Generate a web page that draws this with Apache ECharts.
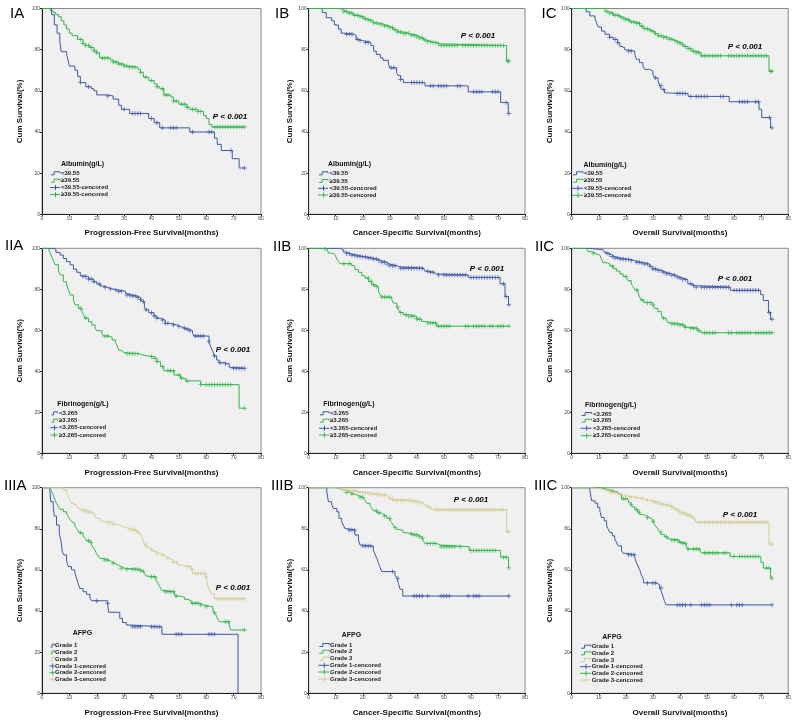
<!DOCTYPE html>
<html><head><meta charset="utf-8">
<script src="https://cdn.jsdelivr.net/npm/echarts@6/dist/echarts.min.js"></script>
<style>html,body{margin:0;padding:0;background:#fff}#c{width:794px;height:723px}</style>
</head><body><div id="c"></div>
<script>
// ===== DATA: Kaplan-Meier step points [month, survival %] and censored times =====
const xTicks = [0,10,20,30,40,50,60,70,80];
const yTicks = [0,20,40,60,80,100];
const pText = 'P < 0.001';

// Row I: Albumin(g/L)
const IA_low = [[0,100],[3.5,97],[4.5,92],[5.5,88],[6.5,84],[7,79],[9,78],[9.5,75],[10,72],[12,70],[13,67],[14,64],[16,62],[18,61],[19,60],[20,58],[24,57.5],[26,56],[28,53],[29,51],[32,49],[39,46.5],[41,44.5],[43,42],[54,40],[63,37],[64,34],[65.5,31],[69.5,27],[72,22.5],[74,22.5]];
const IA_low_cens = [14,17,24,30,33,34,35,36,40,42,44,47,48,49,55,61,62,69,74];
const IA_high = [[0,100],[3,99],[4,98],[5,97],[6,96],[7,94],[8,92],[9,90],[10,88],[11,86.8],[13,85],[15,83],[16,82],[17.5,81],[19,79.5],[20,78.5],[21,76],[25,75],[26,74],[28,73],[30,72],[32,71.5],[35,70.5],[36,69],[37,66.6],[39,65],[41,63.4],[42,62],[43,61],[44.5,58],[47,57],[48,55],[50,53.5],[53,52],[54,51],[57,50],[59,48],[60,46.5],[61,43.7],[62,42.4],[74,42.4]];
const IA_high_cens = [14,15,16,17,18,19,20,22,23,24,26,27,28,29,30,31,32,33,34,36,38,40,42,44,45,46,48,49,51,52,53,55,56,57,58,63,64,65,66,67,68,69,70,71,72,73,74];

const IB_low = [[0,100],[5,98],[6.5,95.5],[8.5,94],[9.5,92],[11,90],[12,88],[13,87.5],[16.5,87],[17.5,85],[18.5,84.4],[20,83.5],[23,82],[24,79.3],[25,77.7],[26.5,76],[27.5,74.8],[29.5,72.8],[30,71.2],[32.5,69],[33,67.5],[34,65.5],[35,64],[43,62.4],[59,59.5],[71,54.3],[73.8,49],[74,49]];
const IB_low_cens = [14,15,16,18,19,21,22,30.5,31.5,34,38,39,40,41,42,45,46,48,49,50,51,55,56,61,62,63,64,68,69,70,73,74];
const IB_high = [[0,100],[11.5,99.3],[12.8,98.4],[14.7,97.7],[16.5,96.7],[18.4,96],[20.2,95],[21.5,94.5],[22.7,94],[24,93],[25.8,92.4],[27.6,91.5],[29.5,90.7],[31.3,89.6],[33,88.6],[35,87.8],[37.5,87],[40,86.3],[41,85.7],[42.4,84.7],[43.6,83.9],[45.5,83.4],[47.3,82.8],[48.6,82],[73.2,74.5],[74,74.5]];
const IB_high_cens = [13,14,15,16,17,18,19,20,21,22,23,24,25,26,27,28,29,30,31,32,33,34,35,36,37,38,39,40,41,42,43,44,45,46,47,48,49,50,51,52,53,54,55,57,58,59,60,61,62,63,64,65,66,67,68,69,70,71,72,73.6,74];

const IC_low = [[0,100],[5.3,98.4],[6.7,96.4],[8.6,95],[9.2,93],[9.8,91],[11,89],[12.3,87.5],[14,86],[15.3,85],[17,83.4],[17.8,81.8],[18.4,81],[19.6,80],[20.2,79.3],[23.3,77.7],[23.9,75.3],[25,73.7],[26.3,72],[27,70.4],[28.8,69.6],[30,68],[30.6,66.3],[31.9,64.7],[32.5,62.6],[33.1,60.7],[34.3,59],[35,58.7],[43,57.3],[58.2,54.7],[69.2,51],[70.2,47],[73.5,42],[74,42]];
const IC_low_cens = [14,16,17,21,22,31,33,34,39,40,41,42,44,46,47,48,49,50,55,56,62,63,64,65,68,69,73,74];
const IC_high = [[0,100],[12.3,98.5],[14,97.7],[15.3,96.7],[17.2,96],[18.4,95.3],[19.6,94.5],[21.4,93.5],[23.3,92.8],[25.1,91.5],[26.3,90.2],[28.2,89.4],[29.4,88.8],[30.6,87.8],[31.9,86.7],[33.7,85.9],[35.5,85],[37.4,84.4],[38.6,83.7],[39.8,83.1],[41,82.4],[41.7,81.5],[43,80.5],[44.1,79.3],[46,78.5],[47.8,77],[72.9,69.5],[74,69.5]];
const IC_high_cens = [13,14,15,16,17,18,19,20,21,22,23,24,25,26,27,28,29,30,31,32,33,34,35,36,37,38,39,40,41,42,43,44,45,46,47,48,49,50,51,52,53,54,55,58,59,60,61,62,63,64,65,66,67,68,69,70,71,72,73.6,74];

// Row II: Fibrinogen(g/L)
const IIA_low = [[0,100],[4.2,99.5],[5.1,98],[6.6,96.7],[7.8,95],[9,93.5],[10.3,91.9],[11.5,89.8],[12.7,88.3],[14,86.7],[14.6,86.2],[17,85],[18.8,83.7],[20,82.6],[21.3,81.6],[22.5,81],[23.7,80.2],[25.6,79.7],[27.4,79],[30.5,78],[31,77.2],[33,76.7],[34.7,76],[36,75],[36.6,74],[37.4,71.2],[38,70],[39,68.6],[40.9,67],[42,65.9],[43.3,65],[45,63.4],[47,62.6],[49.4,61.8],[50.6,61],[52.5,60.5],[53.7,59.8],[55,58.5],[55.5,57.2],[61,54.5],[61.6,52],[62.3,50],[62.9,47.5],[63.8,45.5],[64.7,44.2],[66.5,43.6],[68.4,42],[69,41.5],[74,41.5]];
const IIA_low_cens = [15,16,17,18,19,21,23,25,27,28,29,31,32,33,34,35,36,37,38,40,41,42,44,45,46,48,50,52,53,54,56,57,58,59,61,63,65,67,70,71,72,73,74];
const IIA_high = [[0,100],[2.3,99.5],[2.9,98],[3.5,96],[4.2,94],[4.8,92],[6,89.4],[6.6,87],[7.8,83.7],[9,82],[9.7,79.7],[10.3,77.2],[11.5,74.5],[12.1,72.4],[13.3,70.7],[14.6,69],[15.2,67.5],[15.8,65.9],[17,64.2],[18.2,62.6],[19.4,61],[20,59.8],[21.9,58.2],[22.5,57.2],[24.3,56.6],[25.6,55.3],[26.8,54.1],[27.4,52.8],[28,50.4],[28.6,50],[29.2,49.1],[30,48.6],[35.4,48],[36.6,47.5],[38.4,47.2],[40.9,46.3],[42,44.7],[43.3,42.3],[44.5,40.3],[48.2,38.2],[50.6,36.6],[52.5,35.3],[58,33.5],[72,22],[74,22]];
const IIA_high_cens = [14,16,23,24,31,32,33,34,35,40,41,42,44,46,47,48,50,51,53,58,60,61,62,63,64,65,66,67,68,69,74];

const IIB_low = [[0,100],[11.6,99.3],[12.8,98.2],[14,97.4],[15.3,96.6],[17.8,96.1],[19.6,95.8],[21.5,95.3],[23.3,94.8],[25.2,94],[27,93.2],[28.9,92.3],[30,91.5],[32.6,90.9],[33.8,90.3],[42.4,89.6],[43,88.8],[44.3,88.3],[46.1,87.5],[47.3,87],[59,85.8],[70.8,82.7],[72.6,76.5],[73.9,72.5],[74,72.5]];
const IIB_low_cens = [14,15,16,17,18,19,20,21,22,23,24,25,26,27,28,29,30,31,32,34,35,36,37,38,39,40,41,42,44,45,46,48,50,51,52,53,54,55,56,57,58,60,61,62,63,64,65,66,67,68,69,70,72,73,74];
const IIB_high = [[0,100],[5.2,99.7],[6.7,99],[7.3,97.7],[8.5,96.9],[9.7,96.1],[10.4,94.8],[11,93.6],[11.6,92.5],[15.9,91.5],[17.1,89.6],[18.4,88.3],[19.6,86.6],[20.8,85.5],[22.1,83.9],[23.3,82.2],[24.5,81.4],[25.8,79],[26.4,77.4],[27,76.2],[30.7,75.2],[31.3,73.3],[32.6,71.3],[33.1,70],[33.8,68.7],[35,67.6],[36.9,66.8],[40,65.5],[41.8,64.3],[43,63.5],[47.3,62],[74,62]];
const IIB_high_cens = [6,13,15,22,23,24,25,27,28,29,30,33,34,36,37,38,39,40,41,44,45,46,47,48,49,50,51,52,58,59,61,62,63,64,65,67,68,70,71,72,74];

const IIC_low = [[0,100],[6.5,99.7],[8.6,99.3],[11.6,98.5],[12.3,97.7],[13.5,96.9],[14.7,96],[15.9,95.3],[17.8,94.8],[19.6,94.5],[22,94],[23.3,93.2],[25.1,92.8],[27,92.3],[28.8,91.2],[30,89.9],[31.3,89.1],[33.1,88.3],[34.9,87.6],[36.8,86.8],[38.6,86],[39.8,85.5],[41,84.7],[42.9,82.7],[44.1,81.8],[45.3,81],[58.6,79.5],[69.8,77.4],[70.8,74.5],[72.7,68.7],[73.5,65.4],[74,65.4]];
const IIC_low_cens = [13,14,15,16,17,18,19,20,21,22,24,25,26,27,28,29,30,31,32,33,34,35,36,37,38,39,40,41,42,44,45,46,48,49,50,51,52,53,54,55,56,57,58,60,61,62,63,64,65,66,67,68,69,73,74];
const IIC_high = [[0,100],[5.5,99.5],[6.1,98.4],[7.4,97.6],[8.6,96.7],[10.4,95.9],[11,94.6],[11.6,93],[12.9,92.4],[14.1,91.4],[15.3,90.2],[16.5,88.9],[17.8,87.5],[19,86.2],[20.2,85.4],[20.8,84.2],[22,82.6],[22.7,81.3],[23.3,79.7],[24.5,78.4],[25.1,76.1],[25.7,74.8],[26.7,73.5],[30,72.4],[30.6,70.7],[31.9,69.1],[33.1,67.5],[33.7,65.9],[34.9,65],[35.5,63.7],[36.8,63.1],[39.8,62.6],[41.7,61.5],[42.9,61],[46.6,59.8],[47.8,58.8],[74,58.8]];
const IIC_high_cens = [8,15,20,24,26,28,29,30,34,37,38,39,40,41,42,44,45,46,47,49,50,51,52,53,58,59,61,62,63,64,65,66,68,69,70,71,72,73,74];

// Row III: AFPG grades
const IIIA_g1 = [[0,100],[2.9,98],[3.2,93.2],[4.1,90.8],[4.5,86.2],[5.3,81.8],[6.3,77.8],[7,73.7],[7.4,68.9],[8,67.3],[9,64.3],[9.6,61.6],[10.8,60],[12,58.7],[12.6,55.9],[13.2,53.5],[13.8,51],[15,49.4],[16.3,48.1],[17.5,46.5],[18.1,45],[23.9,43.8],[24.4,39.4],[28.4,36.5],[29.4,34.4],[30.8,33.2],[31.8,32.4],[43.8,28.7],[71.6,0]];
const IIIA_g1_cens = [20,24,33,34,35,36,40,41,42,43,49,50,51,61,62,63];
const IIIA_g2 = [[0,100],[2.9,99.2],[3.5,98],[4.1,96.4],[4.7,94.3],[5.3,92.4],[5.9,90.8],[6.6,89.5],[7.8,88.3],[9,87.2],[9.6,85.9],[10.2,84.6],[10.8,83.5],[11.4,82.7],[12,81.4],[12.6,80.2],[13.2,79.1],[13.8,78.1],[15,76.5],[15.7,75.4],[16.3,74.2],[17.5,73.3],[18.1,72.1],[18.7,71],[19.3,69.7],[19.9,68.1],[20.5,66.8],[21.1,65.6],[22.3,64.8],[24.2,64],[25.4,63.2],[26.6,62.4],[27.8,61.6],[29,60.8],[30.2,60.3],[35.7,59.6],[36.9,59.2],[37.5,58],[38.1,57],[38.7,56.7],[41.7,54.8],[42.4,53.5],[43,51.9],[43.6,50.2],[44.2,49.4],[48.4,48.3],[49,47.3],[50.2,46.7],[52.1,45.7],[53.3,45],[54.5,43.8],[57.5,42.9],[59.3,42.1],[62.4,40.5],[63,39.2],[63.6,38.1],[64.2,36],[64.8,34.8],[68.4,32.7],[69,30.8],[74,30.8]];
const IIIA_g2_cens = [14,17,18,23,24,26,29,31,33,34,35,36,37,40,41,45,46,47,48,49,55,56,57,58,60,63,67,68,74];
const IIIA_g3 = [[0,100],[7.8,98.9],[9,97.2],[9.6,95.6],[10.2,94],[10.8,92.4],[11.4,91.6],[12.6,90.4],[13.2,89.5],[14.4,88.7],[16.9,88],[18.1,87.2],[19.3,86.2],[19.9,85.1],[21.1,84.3],[21.7,83.5],[22.9,83],[25.4,82.3],[26.6,81.7],[28.4,81],[29.6,80.6],[30.8,79.9],[32.6,79.4],[34.5,78.6],[35.1,77.5],[36.3,76.5],[36.9,74.6],[37.5,72.1],[38.1,71],[39.3,70],[40.5,68.9],[41.7,68.1],[43,67.3],[44.2,66.5],[45.4,65.6],[46.6,64.8],[47.8,63.7],[49.6,62.4],[50.8,61.6],[54.5,60.3],[55.1,58.3],[59.9,56.7],[60.5,52.7],[61.2,50.2],[61.8,48.3],[63,46],[74,46]];
const IIIA_g3_cens = [15,16,17,18,24,25,26,32,33,34,35,38,40,42,44,46,48,49,53,54,55,56,57,58,59,60,64,65,66,67,68,69,70,71,72,73,74];

const IIIB_g1 = [[0,100],[6.7,98],[7.3,93.2],[8.5,92],[9.1,89.9],[10.4,88.3],[11.2,85.1],[12.2,83.5],[12.8,81.8],[13.4,80.2],[14,79.4],[17.1,77],[18.4,74.6],[19,72.1],[20,71.6],[23.9,69.7],[24.5,67.7],[25.2,65.6],[25.8,63.2],[26.4,61.3],[27,59.2],[31.9,57.5],[32.6,55.9],[33.2,53.5],[33.8,50.6],[34.8,47.3],[74,47.3]];
const IIIB_g1_cens = [15,16,17,20,21,22,23,31,33,39,40,41,42,44,49,50,51,52,59,61,62,63,74];
const IIIB_g2 = [[0,100],[9.7,99.7],[11,99.2],[12.2,98.5],[14,97.7],[15.3,96.9],[17.1,96.1],[18.4,95.3],[20.2,94.5],[20.8,93.7],[21.5,92.4],[22.7,91.2],[23.3,90],[23.9,88.8],[25.2,87.8],[26.4,87],[27.6,86.2],[28.9,85.1],[30.1,84],[30.7,83],[31.3,81.8],[31.9,80.7],[32.6,79.7],[33.8,79.1],[35,78.1],[36.3,77.5],[38.7,77],[40.6,76.2],[41.8,75.4],[42.4,74.2],[43,72.9],[47.3,72.1],[48.6,71.3],[59.4,69.5],[71,66.2],[73.9,61],[74,61]];
const IIIB_g2_cens = [14,16,19,20,25,26,28,30,32,38,39,40,41,42,44,45,46,47,49,50,51,52,53,54,56,60,61,62,63,64,65,66,67,68,69,72,73,74];
const IIIB_g3 = [[0,100],[10.4,99.7],[11.6,99.2],[12.8,98.9],[14.7,98.5],[17.1,98],[19,97.6],[21.5,97.2],[23.3,96.9],[25.8,96.4],[28.9,96.1],[29.5,95],[30.1,94.3],[31.3,93.8],[38.7,93.2],[40.6,92.6],[42.4,92.4],[43,91.6],[43.6,90.8],[44.9,90],[45.5,89.3],[73.2,78.6],[74,78.6]];
const IIIB_g3_cens = [13,14,15,16,17,18,19,20,21,22,23,24,25,26,27,28,30,31,32,33,34,35,36,37,38,39,40,41,42,44,45,47,48,49,50,51,52,53,54,55,56,57,58,59,60,61,62,63,64,65,66,67,68,69,70,71,72,73.6,74];

const IIIC_g1 = [[0,100],[6.7,98.5],[7.4,93.6],[8.6,92.5],[9.6,90.4],[10.4,88.8],[11,85.5],[12,83.9],[12.9,81.4],[13.5,79.8],[14.1,78.2],[15,76.6],[15.9,74.9],[16.5,73.6],[17.2,71.7],[18.4,69.3],[19,68.1],[20,67.4],[23.3,66],[23.9,63.5],[24.5,61.9],[25.1,60.2],[25.7,57.7],[26.3,56.1],[26.7,53.7],[31.2,52.8],[32.5,51.2],[33.1,49.6],[33.7,47.2],[34.3,44.7],[34.9,43],[74,43]];
const IIIC_g1_cens = [21,22,23,28,30,31,33,39,40,41,42,44,48,49,50,51,59,61,62,63,74];
const IIIC_g2 = [[0,100],[10.8,99.5],[12.3,98.9],[14.1,98.4],[15.3,97.9],[17.2,96.7],[18.4,94.6],[20.2,94],[21,92.7],[21.8,91.9],[22.3,90.7],[23.3,89.4],[24.3,88.1],[25.1,87],[26.3,86.2],[27.6,85.4],[28.8,84.6],[30,83.7],[30.6,82.1],[31.3,80.9],[31.9,79.7],[32.5,78.4],[33.1,77.2],[34.3,76.1],[35.5,75.1],[36.8,74.5],[39.8,73.5],[41,72.9],[42.3,71.5],[42.9,70.2],[47.2,69.6],[47.8,68.3],[58.6,66.5],[69.9,63.7],[70.8,60.9],[73.5,56],[74,56]];
const IIIC_g2_cens = [15,19,20,22,24,25,28,30,33,35,37,38,39,40,41,42,43,45,46,47,49,50,51,52,53,54,56,57,60,62,63,64,65,66,67,68,69,72,73,74];
const IIIC_g3 = [[0,100],[6.7,99.7],[8.6,99.3],[11,98.5],[12.9,98],[14.7,97.5],[17.2,96.7],[19,95.9],[20.8,95.4],[23.3,95.1],[25.1,94.6],[27,93.9],[28.8,93.4],[30.6,92.7],[32.5,91.9],[34.3,91.4],[36.2,90.7],[37.4,89.8],[38.6,89.1],[39.8,88.1],[41,87.3],[42.9,86.5],[44.1,85.4],[45.3,84.6],[46,83.2],[72.9,72.6],[74,72.6]];
const IIIC_g3_cens = [14,15,16,17,18,20,22,24,26,28,30,31,32,33,34,35,36,37,38,39,40,41,42,43,44,45,47,48,49,50,51,52,53,54,55,56,57,58,59,60,61,62,63,64,65,66,67,68,69,70,71,72,73.6,74];

// Labels
const xTitles = ['Progression-Free Survival(months)','Cancer-Specific Survival(months)','Overall Survival(months)'];
const yTitle = 'Cum Survival(%)';
const legendTitles = ['Albumin(g/L)','Fibrinogen(g/L)','AFPG'];
const legendAlb = ['<39.55','\u226539.55','<39.55-cencored','\u226539.55-cencored'];
const legendFib = ['<3.265','\u22653.265','<3.265-cencored','\u22653.265-cencored'];
const legendAfpg = ['Grade 1','Grade 2','Grade 3','Grade 1-cencored','Grade 2-cencored','Grade 3-cencored'];
const panelLabels = ['IA','IB','IC','IIA','IIB','IIC','IIIA','IIIB','IIIC'];

// ===== STYLE / LAYOUT =====
const BLUE='#3E58AC', GREEN='#2EB848', TAN='#D3CE97';
const FONT = '"Liberation Sans", Arial, sans-serif';
const cross = 'path://M0,4H10V6H0Z M4,0H6V10H4Z';
const cols = [{left:42,width:219},{left:308.7,width:216.3},{left:571.7,width:217.6}];
const rows = [{top:8.5,height:205.8},{top:248.3,height:205},{top:487.7,height:205.6}];
const yGaps = [18,15,18];
const xGaps = [14,15,15];

const panels = [
  {curves:[[IA_low,IA_low_cens,BLUE],[IA_high,IA_high_cens,GREEN]], leg:legendAlb, lt:0, p:[230,117], lab:[10,15],
   L:{ix:51,iw:9,tx:61,titx:61,tity:164,rows:[173.3,180.7,187.5,194.5]}},
  {curves:[[IB_low,IB_low_cens,BLUE],[IB_high,IB_high_cens,GREEN]], leg:legendAlb, lt:0, p:[478,36], lab:[275,15],
   L:{ix:319,iw:9,tx:329.5,titx:328,tity:164.3,rows:[173.3,181,188.3,195]}},
  {curves:[[IC_low,IC_low_cens,BLUE],[IC_high,IC_high_cens,GREEN]], leg:legendAlb, lt:0, p:[745,47], lab:[541.5,15],
   L:{ix:573,iw:10,tx:584,titx:583.5,tity:164.7,rows:[173.3,180.7,188.3,195.3]}},
  {curves:[[IIA_low,IIA_low_cens,BLUE],[IIA_high,IIA_high_cens,GREEN]], leg:legendFib, lt:1, p:[233,350], lab:[5,246.7],
   L:{ix:51.5,iw:6,tx:59,titx:57.3,tity:404,rows:[413.3,420.7,427.7,435]}},
  {curves:[[IIB_low,IIB_low_cens,BLUE],[IIB_high,IIB_high_cens,GREEN]], leg:legendFib, lt:1, p:[487,269], lab:[273,248],
   L:{ix:320,iw:9,tx:330,titx:323.3,tity:404,rows:[413.3,420.7,428.3,435]}},
  {curves:[[IIC_low,IIC_low_cens,BLUE],[IIC_high,IIC_high_cens,GREEN]], leg:legendFib, lt:1, p:[735,279], lab:[535,248],
   L:{ix:581.7,iw:10,tx:593,titx:585,tity:405,rows:[414,420.7,428.3,435.7]}},
  {curves:[[IIIA_g1,IIIA_g1_cens,BLUE],[IIIA_g2,IIIA_g2_cens,GREEN],[IIIA_g3,IIIA_g3_cens,TAN]], leg:legendAfpg, lt:2, p:[233,588], lab:[4,486.7],
   L:{ix:50.7,iw:4,tx:55,titx:72.7,tity:633.3,rows:[645.7,652.3,659,666,672.7,679.3]}},
  {curves:[[IIIB_g1,IIIB_g1_cens,BLUE],[IIIB_g2,IIIB_g2_cens,GREEN],[IIIB_g3,IIIB_g3_cens,TAN]], leg:legendAfpg, lt:2, p:[471,500], lab:[271,487],
   L:{ix:319.3,iw:10,tx:330,titx:341.7,tity:635,rows:[645,651.7,658.7,665.3,672,679]}},
  {curves:[[IIIC_g1,IIIC_g1_cens,BLUE],[IIIC_g2,IIIC_g2_cens,GREEN],[IIIC_g3,IIIC_g3_cens,TAN]], leg:legendAfpg, lt:2, p:[740,515], lab:[534,487],
   L:{ix:581,iw:10,tx:591.7,titx:602.3,tity:636.7,rows:[646.7,653.3,660,666.7,673.3,680]}}
];

function survAt(curve, t){ let s = curve[0][1]; for (const p of curve){ if (p[0] <= t) s = p[1]; else break; } return s; }

const grid=[], xAxis=[], yAxis=[], series=[], graphic=[];
panels.forEach((P,k)=>{
  const r = Math.floor(k/3), c = k%3;
  grid.push({left:cols[c].left, top:rows[r].top, width:cols[c].width, height:rows[r].height,
    show:true, backgroundColor:'#F0F0F0', borderColor:'#8a8a8a', borderWidth:1});
  xAxis.push({gridIndex:k, type:'value', min:xTicks[0], max:xTicks[xTicks.length-1], interval:xTicks[1]-xTicks[0],
    name:xTitles[c], nameLocation:'middle', nameGap:xGaps[r],
    nameTextStyle:{fontFamily:FONT, fontWeight:'bold', fontSize:8, color:'#111'},
    axisLine:{onZero:false, lineStyle:{color:'#222', width:1}}, axisTick:{length:2, lineStyle:{color:'#222'}},
    axisLabel:{fontSize:5, color:'#444', margin:2, fontFamily:FONT}, splitLine:{show:false}});
  yAxis.push({gridIndex:k, type:'value', min:yTicks[0], max:yTicks[yTicks.length-1], interval:yTicks[1]-yTicks[0],
    name:yTitle, nameLocation:'middle', nameGap:yGaps[c], nameRotate:90,
    nameTextStyle:{fontFamily:FONT, fontWeight:'bold', fontSize:8, color:'#111'},
    axisLine:{onZero:false, lineStyle:{color:'#222', width:1}}, axisTick:{length:2, lineStyle:{color:'#222'}},
    axisLabel:{fontSize:5, color:'#444', margin:2, fontFamily:FONT}, splitLine:{show:false}});
  P.curves.forEach(([curve, cens, col])=>{
    series.push({type:'line', xAxisIndex:k, yAxisIndex:k, step:'end', data:curve, symbol:'none',
      lineStyle:{color:col, width:1}, itemStyle:{color:col}, silent:true, z:2});
    series.push({type:'scatter', xAxisIndex:k, yAxisIndex:k, data:cens.map(t=>[t, survAt(curve,t)]),
      symbol:cross, symbolSize:4.5, itemStyle:{color:col}, silent:true, z:3});
  });
  // panel label
  graphic.push({type:'text', left:P.lab[0], top:P.lab[1]-8.5,
    style:{text:panelLabels[k], fontSize:15, fontFamily:FONT, fill:'#000'}});
  // P value
  graphic.push({type:'text', x:P.p[0], y:P.p[1],
    style:{text:pText, fontSize:8, fontWeight:'bold', fontStyle:'italic', fontFamily:FONT, fill:'#000', align:'center', verticalAlign:'middle'}});
  // legend
  const L = P.L, n = P.curves.length;
  graphic.push({type:'text', x:L.titx, y:L.tity,
    style:{text:legendTitles[P.lt], fontSize:7, fontWeight:'bold', fontFamily:FONT, fill:'#111', verticalAlign:'middle'}});
  P.leg.forEach((name,i)=>{
    const y = L.rows[i], col = P.curves[i % n][2], x0 = L.ix, w = L.iw;
    if (i < n) {
      graphic.push({type:'polyline', shape:{points:[[x0,y+1.5],[x0+w*0.35,y+1.5],[x0+w*0.35,y-1.5],[x0+w,y-1.5],[x0+w,y]]},
        style:{stroke:col, fill:null, lineWidth:1}});
    } else {
      graphic.push({type:'line', shape:{x1:x0-1, y1:y, x2:x0+w, y2:y}, style:{stroke:col, lineWidth:1}});
      graphic.push({type:'line', shape:{x1:x0+w/2, y1:y-2.5, x2:x0+w/2, y2:y+2.5}, style:{stroke:col, lineWidth:1}});
    }
    graphic.push({type:'text', x:L.tx, y:y,
      style:{text:name, fontSize:6, fontWeight:'bold', fontFamily:FONT, fill:'#222', verticalAlign:'middle'}});
  });
});

const chart = echarts.init(document.getElementById('c'), null, {renderer:'canvas'});
chart.setOption({animation:false, backgroundColor:'#fff', grid, xAxis, yAxis, series, graphic});
</script></body></html>
